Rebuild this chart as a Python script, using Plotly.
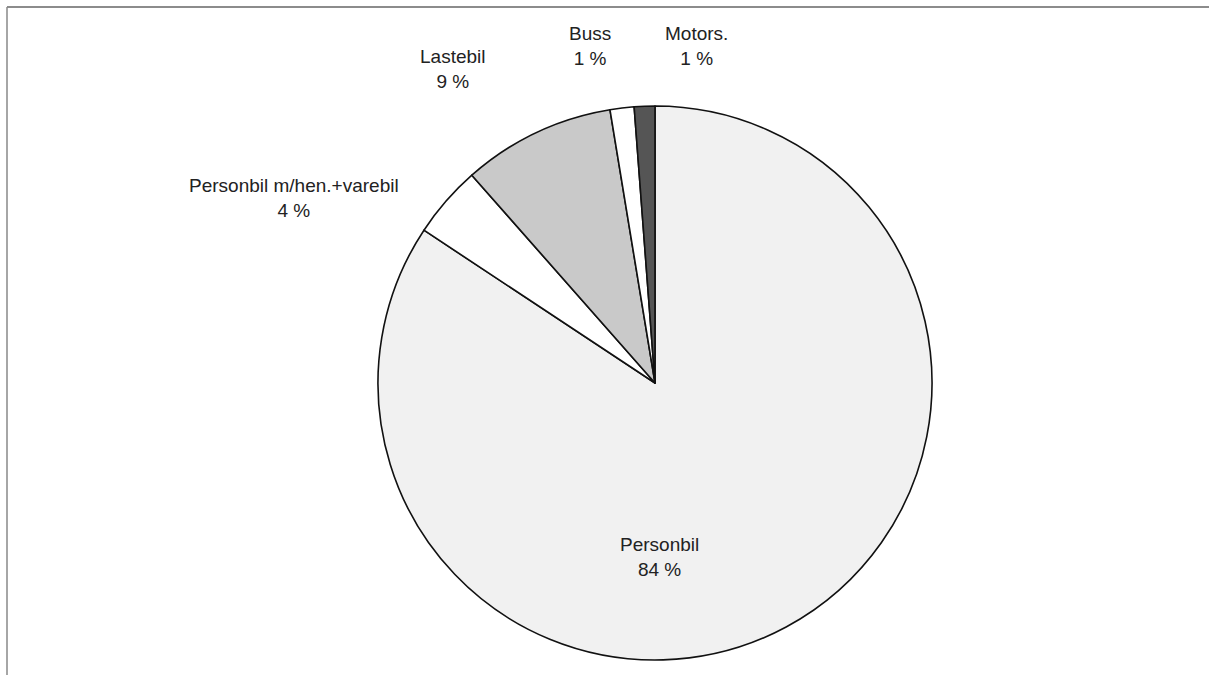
import plotly.graph_objects as go

# Data (shares in percent)
categories = ["Personbil", "Personbil m/hen.+varebil", "Lastebil", "Buss", "Motors."]
values = [84.3, 4.2, 8.9, 1.4, 1.2]
colors = ["#f1f1f1", "#ffffff", "#c9c9c9", "#ffffff", "#555555"]

# Label block centres in pixels
label_pos = {
    "Personbil": (659, 557),
    "Personbil m/hen.+varebil": (294, 198),
    "Lastebil": (453, 69),
    "Buss": (590, 46),
    "Motors.": (696, 46),
}

W, H = 1209, 675
cx, cy, r = 655, 383, 277

fig = go.Figure(go.Pie(
    labels=categories,
    values=values,
    sort=False,
    direction="clockwise",
    rotation=0,
    marker=dict(colors=colors, line=dict(color="#111111", width=1.6)),
    textinfo="none",
    hoverinfo="label+percent",
    showlegend=False,
    domain=dict(x=[(cx - r) / W, (cx + r) / W], y=[1 - (cy + r) / H, 1 - (cy - r) / H]),
))

total = sum(values)
for cat, v in zip(categories, values):
    x, y = label_pos[cat]
    fig.add_annotation(
        x=x / W, y=1 - y / H, xref="paper", yref="paper",
        text=f"{cat}<br>{round(v / total * 100)} %",
        showarrow=False, xanchor="center", yanchor="middle",
        font=dict(family="Liberation Sans, Arial, sans-serif", size=19, color="#222222"),
        align="center",
    )

# Frame lines (scan border)
fig.add_shape(type="line", xref="paper", yref="paper", x0=7 / W, x1=1, y0=1 - 7 / H, y1=1 - 7 / H,
              line=dict(color="#666666", width=1.5))
fig.add_shape(type="line", xref="paper", yref="paper", x0=7 / W, x1=7 / W, y0=0, y1=1 - 7 / H,
              line=dict(color="#888888", width=1.5))

fig.update_layout(
    width=W, height=H,
    margin=dict(l=0, r=0, t=0, b=0),
    paper_bgcolor="white", plot_bgcolor="white",
)

fig.write_html("out.html", config={"displayModeBar": False},
               post_script="document.body.style.margin='0px';")
